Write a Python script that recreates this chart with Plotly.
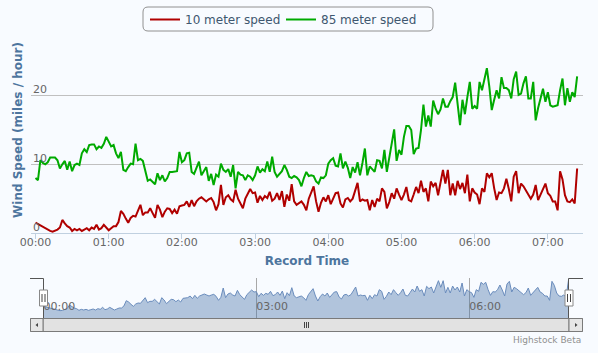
import plotly.graph_objects as go
import pandas as pd

W, H = 598, 353

# ---------------- data (miles / hour, one reading every 2 minutes from 00:00) ----------------
start_time = "2011-01-01 00:00"
step = "2min"
series_names = ["10 meter speed", "85 meter speed"]
series_colors = ["#b00000", "#00aa00"]

speed_10m = [
    1.5, 1.3, 1.1, 0.8, 0.6, 0.4, 0.3, 0.2, 0.3, 0.5, 0.8, 1.9, 1.4, 1.0, 0.8, 0.3, 0.6, 0.4, 0.6, 0.3,
    0.5, 0.7, 0.4, 0.8, 0.6, 1.2, 0.5, 0.7, 1.2, 0.8,
    0.4, 0.7, 1.0, 1.0, 1.6, 3.2, 2.8, 2.1, 1.5, 2.2, 2.5, 2.4, 3.2, 4.1, 2.6, 3.0, 3.0, 3.6, 2.9, 2.2,
    4.1, 3.4, 2.3, 3.1, 3.6, 3.5, 2.9, 3.4, 2.8, 3.9,
    4.0, 4.1, 4.6, 3.8, 4.8, 3.9, 4.6, 5.0, 5.2, 4.9, 4.6, 4.9, 5.1, 4.5, 3.3, 4.2, 7.0, 4.1, 5.2, 5.5,
    4.9, 4.6, 6.3, 5.0, 4.4, 3.6, 5.0, 5.6, 6.4, 5.8,
    5.9, 4.4, 5.4, 4.8, 5.4, 5.1, 6.0, 4.7, 5.0, 5.8, 4.8, 6.1, 3.8, 5.6, 4.7, 7.1, 4.6, 4.1, 4.3, 4.6,
    4.1, 3.3, 5.0, 6.0, 6.8, 4.6, 3.1, 4.4, 5.2, 4.6,
    5.5, 4.2, 4.9, 5.8, 5.9, 4.3, 3.7, 4.9, 5.1, 4.6, 5.0, 6.0, 7.3, 4.6, 4.9, 4.7, 4.8, 3.3, 4.8, 3.8,
    5.0, 4.6, 6.5, 6.0, 3.6, 4.5, 5.8, 5.0, 6.5, 5.6,
    4.8, 5.6, 6.7, 4.8, 4.6, 5.6, 6.7, 5.8, 7.6, 6.0, 6.5, 4.6, 7.5, 6.8, 7.3, 5.5, 7.4, 9.2, 7.2, 9.2,
    5.5, 7.2, 5.5, 7.6, 6.4, 7.3, 5.8, 8.5, 4.6, 6.5,
    5.9, 5.6, 4.2, 6.5, 6.0, 8.7, 8.1, 8.7, 6.5, 4.8, 5.9, 5.8, 6.5, 7.9, 6.4, 4.6, 8.2, 9.0, 5.8, 7.2,
    6.8, 6.2, 5.6, 5.0, 5.6, 7.0, 4.8, 5.6, 6.2, 7.2,
    5.8, 5.4, 4.6, 4.6, 3.3, 9.0, 7.8, 5.5, 4.6, 4.5, 4.9, 4.3, 9.4,
]

speed_85m = [
    8.0, 7.7, 10.6, 10.2, 10.0, 10.3, 11.0, 11.0, 11.0, 10.6, 9.4, 10.0, 10.5, 9.2, 10.4, 9.0, 9.9, 10.1, 9.9, 11.6,
    12.2, 11.8, 12.8, 12.9, 12.9, 12.2, 12.6, 12.4, 13.0, 14.0,
    13.3, 12.6, 12.8, 11.6, 10.9, 11.8, 9.2, 9.0, 9.6, 10.1, 10.0, 13.0, 10.6, 10.8, 10.5, 8.9, 7.6, 7.8, 7.5, 7.1,
    8.7, 7.7, 8.4, 7.5, 8.0, 8.9, 8.9, 9.0, 9.0, 11.8,
    10.3, 10.6, 11.6, 11.7, 8.9, 8.6, 9.5, 10.4, 8.4, 9.0, 9.6, 7.6, 8.6, 7.0, 8.5, 8.2, 10.1, 9.2, 8.9, 9.3,
    8.2, 9.9, 6.5, 8.9, 8.5, 8.4, 7.7, 8.4, 8.2, 7.7,
    8.4, 9.7, 8.8, 9.3, 9.0, 10.4, 8.9, 11.1, 8.9, 8.2, 8.6, 9.0, 9.9, 9.2, 8.2, 8.0, 8.3, 8.1, 7.7, 6.8,
    8.0, 8.9, 8.3, 8.4, 8.3, 7.5, 7.2, 8.1, 8.0, 8.4,
    10.1, 10.6, 10.9, 9.8, 9.7, 11.6, 9.4, 10.4, 9.5, 8.0, 9.6, 8.8, 10.3, 8.4, 10.2, 12.3, 8.4, 9.7, 9.3, 8.9,
    10.6, 10.5, 9.4, 12.1, 8.9, 11.0, 12.8, 15.1, 10.5, 12.1,
    11.4, 14.0, 15.6, 15.6, 15.0, 11.5, 12.3, 12.4, 15.0, 18.7, 15.5, 17.1, 15.5, 19.3, 18.1, 17.3, 18.0, 19.6, 18.4, 18.4,
    19.2, 19.8, 21.9, 19.0, 15.7, 19.4, 17.3, 19.8, 22.0, 18.1,
    18.5, 18.1, 22.0, 20.8, 22.3, 24.0, 21.3, 17.9, 19.4, 20.8, 19.6, 22.7, 21.1, 21.1, 20.8, 19.6, 22.4, 23.5, 20.1, 20.3,
    21.8, 22.8, 19.6, 19.6, 22.0, 16.4, 18.2, 19.6, 21.0, 19.1,
    20.5, 18.6, 18.4, 18.5, 18.6, 20.8, 22.5, 18.6, 21.1, 19.1, 20.5, 19.8, 22.8,
]

y_ticks = [0, 10, 20, 30]
y_labels = ["0", "10", "20"]          # the top (30) line has no label

times = pd.date_range(start_time, periods=len(speed_10m), freq=step)
t0 = times[0]
t_last = times[-1]

# ---------------- helpers (pixel -> paper) ----------------
def px(x):
    return x / W

def py(y):
    return 1 - y / H

BG = "#f8fbff"
TITLE_COLOR = "#4d759e"
LABEL_COLOR = "#666666"
FONT = "DejaVu Sans, Verdana, sans-serif"

fig = go.Figure()

for name, vals, col in zip(series_names, [speed_10m, speed_85m], series_colors):
    fig.add_trace(go.Scatter(
        x=times, y=vals, name=name, mode="lines",
        line=dict(color=col, width=2), xaxis="x", yaxis="y",
    ))

# navigator: area of the first series
nav_floor = -2
fig.add_trace(go.Scatter(
    x=times, y=[nav_floor] * len(times), mode="lines", line=dict(width=0),
    showlegend=False, hoverinfo="skip", xaxis="x2", yaxis="y2",
))
fig.add_trace(go.Scatter(
    x=times, y=speed_10m, mode="lines", fill="tonexty",
    fillcolor="rgba(69,114,167,0.40)", line=dict(color="#6a8cbc", width=1),
    showlegend=False, hoverinfo="skip", xaxis="x2", yaxis="y2",
))

hour_ms = 3600000
main_left = t0 - pd.Timedelta(minutes=3.7)
main_right = t0 + pd.Timedelta(minutes=448.8)

shapes = []

# legend frame (rounded)
lx0, lx1, ly0, ly1, r = 143, 433, 7, 31, 5
path = (
    f"M {px(lx0 + r)},{py(ly0)} L {px(lx1 - r)},{py(ly0)} "
    f"Q {px(lx1)},{py(ly0)} {px(lx1)},{py(ly0 + r)} "
    f"L {px(lx1)},{py(ly1 - r)} Q {px(lx1)},{py(ly1)} {px(lx1 - r)},{py(ly1)} "
    f"L {px(lx0 + r)},{py(ly1)} Q {px(lx0)},{py(ly1)} {px(lx0)},{py(ly1 - r)} "
    f"L {px(lx0)},{py(ly0 + r)} Q {px(lx0)},{py(ly0)} {px(lx0 + r)},{py(ly0)} Z"
)
shapes.append(dict(type="path", xref="paper", yref="paper", path=path,
                   line=dict(color="#909090", width=1), fillcolor="rgba(0,0,0,0)", layer="below"))

def line(x0, y0, x1, y1, color="#555555", width=1):
    shapes.append(dict(type="line", xref="paper", yref="paper",
                       x0=px(x0), y0=py(y0), x1=px(x1), y1=py(y1),
                       line=dict(color=color, width=width)))

def rect(x0, y0, x1, y1, fill, color="#888888", width=1):
    shapes.append(dict(type="rect", xref="paper", yref="paper",
                       x0=px(x0), y0=py(y0), x1=px(x1), y1=py(y1),
                       fillcolor=fill, line=dict(color=color, width=width)))

# scrollbar
rect(30.5, 318.5, 582.5, 331.5, "#eeeeee", "#888888")
rect(43, 318.5, 569, 331.5, "#e2e2e2", "#7a7a7a")
rect(30.5, 318.5, 43, 331.5, "#e6e6e6", "#7a7a7a")
rect(569, 318.5, 582.5, 331.5, "#e6e6e6", "#7a7a7a")
for gx in (304.5, 306.5, 308.5):
    line(gx, 322, gx, 328, "#444444", 1)
# arrows
shapes.append(dict(type="path", xref="paper", yref="paper",
                   path=f"M {px(38)},{py(323)} L {px(38)},{py(327)} L {px(35.5)},{py(325)} Z",
                   fillcolor="#444444", line=dict(width=0)))
shapes.append(dict(type="path", xref="paper", yref="paper",
                   path=f"M {px(575)},{py(323)} L {px(575)},{py(327)} L {px(577.5)},{py(325)} Z",
                   fillcolor="#444444", line=dict(width=0)))

# navigator outline
line(30, 278.5, 43.5, 278.5)
line(43.5, 278.5, 43.5, 318)
line(568.5, 318, 568.5, 278.5)
line(568.5, 278.5, 583, 278.5)

# handles
for hx in (43.5, 569):
    rect(hx - 4, 290, hx + 4, 306, "#ffffff", "#888888")
    line(hx - 1.5, 294, hx - 1.5, 302, "#444444", 1)
    line(hx + 1.5, 294, hx + 1.5, 302, "#444444", 1)

annotations = [
    dict(text="Highstock Beta", xref="paper", yref="paper",
         x=px(583), y=py(340), xanchor="right", yanchor="middle",
         showarrow=False, font=dict(size=9, color="#909090")),
]
for v, t in zip(y_ticks, y_labels):
    annotations.append(dict(
        text=t, xref="paper", yref="y", x=px(31), y=v, xanchor="left", yanchor="middle",
        yshift=6, showarrow=False, font=dict(size=11, color=LABEL_COLOR),
    ))

fig.update_layout(
    width=W, height=H,
    margin=dict(l=0, r=0, t=0, b=0, autoexpand=False),
    paper_bgcolor=BG, plot_bgcolor=BG,
    font=dict(family=FONT, size=11, color=LABEL_COLOR),
    showlegend=True,
    legend=dict(
        orientation="h", x=px(145), y=py(19.5), xanchor="left", yanchor="middle",
        traceorder="normal",
        bgcolor="rgba(0,0,0,0)", borderwidth=0,
        font=dict(family=FONT, size=12, color="#3e576f"),
        entrywidth=91, entrywidthmode="pixels", itemclick=False, itemdoubleclick=False,
    ),
    xaxis=dict(
        domain=[px(31), px(583)], anchor="y", type="date", automargin=False,
        range=[main_left, main_right],
        tick0=t0, dtick=hour_ms, tickformat="%H:%M",
        ticks="outside", ticklen=5, tickcolor="#c0d0e0",
        showline=True, linecolor="#c0d0e0", linewidth=1,
        showgrid=False, zeroline=False,
        tickfont=dict(size=11, color=LABEL_COLOR),
        ticklabelstandoff=-6,
        title=dict(text="Record Time", standoff=8,
                   font=dict(size=12, color=TITLE_COLOR, weight="bold")),
    ),
    yaxis=dict(
        domain=[py(233), py(27)], anchor="x", automargin=False,
        range=[0, 30], tickvals=y_ticks, showticklabels=False,
        showgrid=True, gridcolor="#c0c0c0", gridwidth=1,
        zeroline=False, showline=False, ticks="",
        title=dict(text="Wind Speed (miles / hour)", standoff=4,
                   font=dict(size=12, color=TITLE_COLOR, weight="bold")),
    ),
    xaxis2=dict(
        domain=[px(43.5), px(568.5)], anchor="y2", type="date", automargin=False,
        range=[t0, t_last], tick0=t0, dtick=3 * hour_ms, tickformat="%H:%M",
        showgrid=True, gridcolor="#a8a8a8", gridwidth=1,
        ticks="", showline=False, zeroline=False,
        ticklabelposition="inside right",
        tickfont=dict(size=11, color=LABEL_COLOR),
    ),
    yaxis2=dict(
        domain=[py(318), py(278)], anchor="x2", range=[nav_floor, 10], automargin=False,
        showgrid=False, showticklabels=False, zeroline=False, showline=False, ticks="",
    ),
    shapes=shapes,
    annotations=annotations,
)

fig.write_html("out.html")
